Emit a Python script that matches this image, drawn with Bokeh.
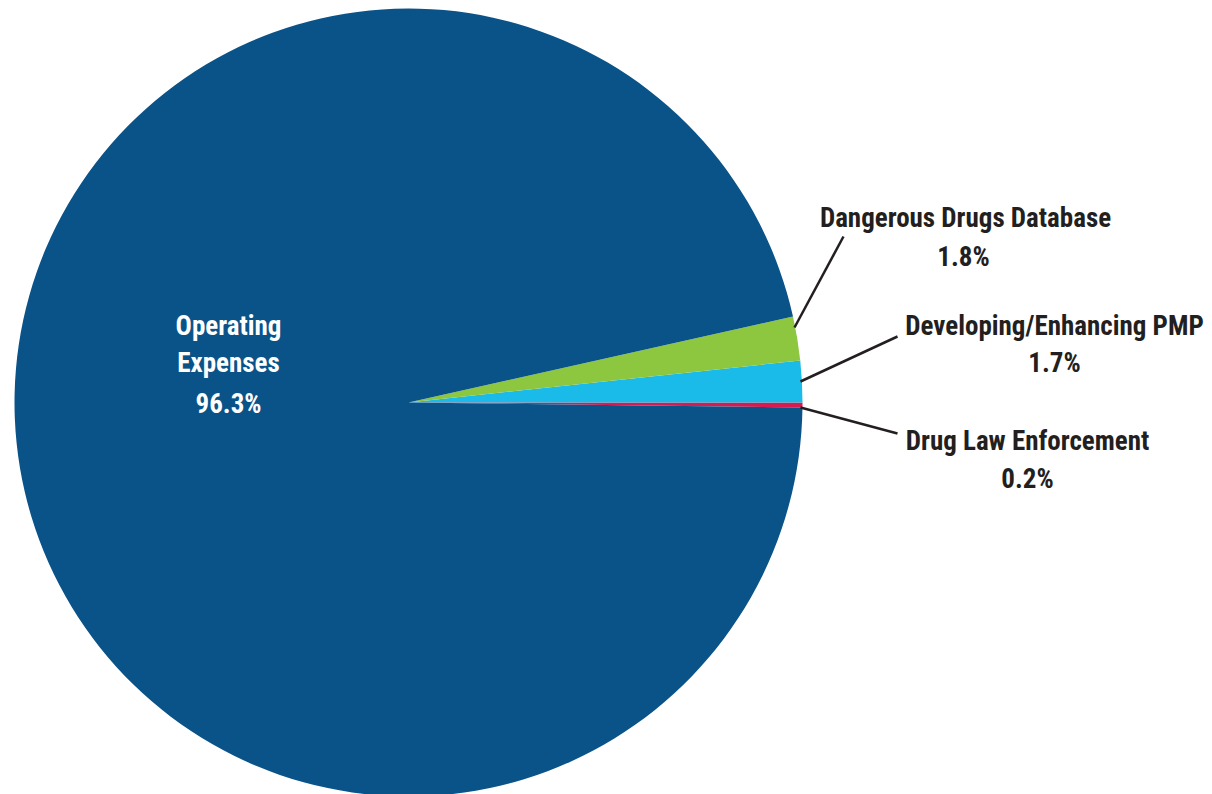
import math
from bokeh.plotting import figure
from bokeh.models import Range1d
from bokeh.core.properties import value
from bokeh.embed import file_html
from bokeh.resources import INLINE

categories = ["Drug Law Enforcement", "Developing/Enhancing PMP", "Dangerous Drugs Database", "Operating Expenses"]
values = [0.2, 1.7, 1.8, 96.3]
labels = ["0.2%", "1.7%", "1.8%", "96.3%"]
colors = ["#d71a50", "#1bbbe9", "#8dc63f", "#0a5389"]

H = 794
W = 1212
p = figure(width=W, height=H, output_backend="svg", toolbar_location=None,
           x_range=Range1d(0, W), y_range=Range1d(0, H), min_border=0)
p.axis.visible = False
p.grid.visible = False
p.outline_line_color = None
p.background_fill_color = "white"

cx, cy, r = 408, H - 402, 394
total = sum(values)
start = -2 * math.pi * values[0] / total
starts, ends = [], []
a = start
for v in values:
    starts.append(a)
    a += 2 * math.pi * v / total
    ends.append(a)

p.wedge(x=[cx] * 4, y=[cy] * 4, radius=r, start_angle=starts, end_angle=ends,
        fill_color=colors, line_color=None)

font = value("Roboto Condensed, DejaVu Sans Condensed, Roboto")
fs = "27px"

# inside label
p.text(x=[228, 228, 228], y=[H - 325, H - 362, H - 403],
       text=["Operating", "Expenses", labels[3]], text_color="white",
       text_font=font, text_font_style="bold", text_font_size=fs,
       text_align="center", text_baseline="middle")

# leader lines (screen coords)
leaders = [((800, 407), (897, 433)), ((800, 381), (897, 336)), ((794, 327), (843, 236))]
for (x0, y0), (x1, y1) in leaders:
    p.line([x0, x1], [H - y0, H - y1], line_color="#231f20", line_width=2.5)

name_pos = [(1027, 440), (1054, 325), (965, 217)]
pct_pos = [(1027, 478), (1054, 362), (963, 256)]
for i in range(3):
    p.text(x=[name_pos[i][0], pct_pos[i][0]], y=[H - name_pos[i][1], H - pct_pos[i][1]],
           text=[categories[i], labels[i]], text_color="#231f20",
           text_font=font, text_font_style="bold", text_font_size=fs,
           text_align="center", text_baseline="middle")

open("out.html", "w").write(file_html(p, INLINE))
